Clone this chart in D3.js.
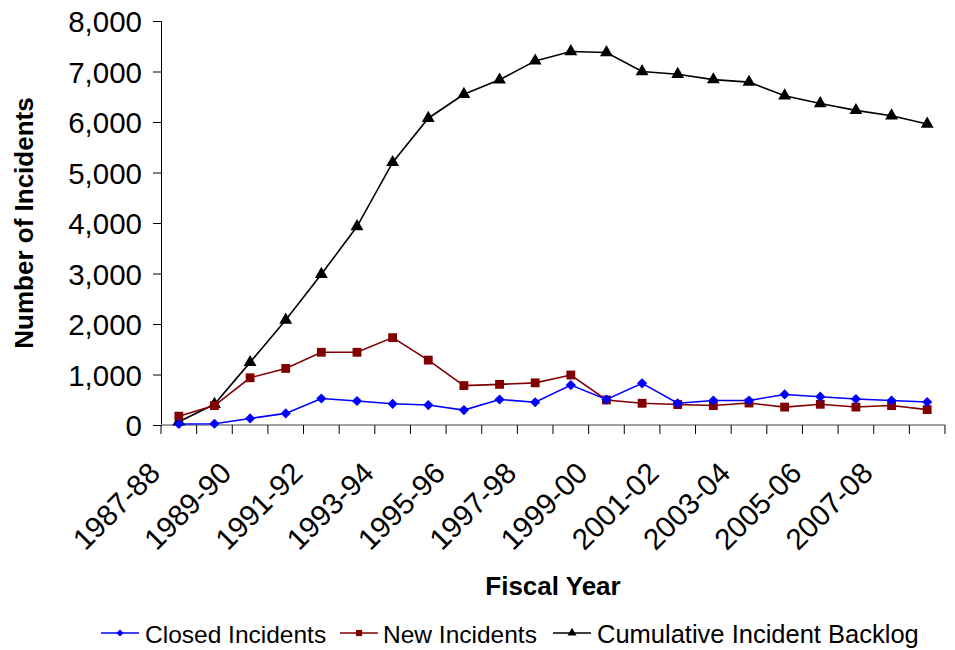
<!DOCTYPE html>
<html>
<head>
<meta charset="utf-8">
<script src="https://cdn.jsdelivr.net/npm/d3@7"></script>
<style>
  html, body { margin: 0; padding: 0; background: #fff; }
  svg { display: block; font-family: "Liberation Sans", Arial, sans-serif; }
</style>
</head>
<body>
<svg id="chart" width="955" height="650"></svg>
<script>
const categories = ["1987-88","1988-89","1989-90","1990-91","1991-92","1992-93","1993-94","1994-95","1995-96","1996-97","1997-98","1998-99","1999-00","2000-01","2001-02","2002-03","2003-04","2004-05","2005-06","2006-07","2007-08","2008-09"];
const closedIncidents = [20, 25, 130, 230, 525, 475, 420, 395, 295, 505, 450, 790, 505, 825, 430, 485, 485, 605, 560, 515, 485, 455];
const newIncidents = [175, 385, 935, 1120, 1440, 1440, 1730, 1285, 780, 805, 835, 990, 495, 430, 405, 385, 435, 355, 410, 355, 385, 305];
const backlog = [65, 410, 1240, 2080, 2985, 3930, 5200, 6075, 6550, 6835, 7210, 7395, 7375, 7000, 6945, 6840, 6790, 6520, 6365, 6230, 6125, 5960];
const yTicks = [0, 1000, 2000, 3000, 4000, 5000, 6000, 7000, 8000];
const tickLabelCats = ["1987-88","1989-90","1991-92","1993-94","1995-96","1997-98","1999-00","2001-02","2003-04","2005-06","2007-08"];
const seriesNames = ["Closed Incidents", "New Incidents", "Cumulative Incident Backlog"];
const seriesColors = ["#0000FF", "#800000", "#000000"];

const svg = d3.select("#chart");
const plot = { left: 161, right: 945, top: 21, bottom: 425 };

const x = d3.scaleBand().domain(categories).range([plot.left, plot.right]).padding(0);
const y = d3.scaleLinear().domain([0, 8000]).range([plot.bottom, plot.top]);
const cx = d => x(d) + x.bandwidth() / 2;

// marker shapes: diamond = rotated square
function marker(sel, k, scale) {
  const s = scale || 1;
  if (k === 0) {
    sel.attr("d", d3.symbol().type(d3.symbolSquare).size(52 * s * s));
  } else if (k === 1) {
    sel.attr("d", d3.symbol().type(d3.symbolSquare).size(78 * s * s));
  } else {
    sel.attr("d", d3.symbol().type(d3.symbolTriangle).size(72 * s * s));
  }
  return sel;
}

// Y axis
const yAxis = d3.axisLeft(y).tickValues(yTicks).tickSize(8).tickFormat(d3.format(",")).tickPadding(11);
const gy = svg.append("g").attr("transform", `translate(${plot.left},0)`).call(yAxis);
gy.select(".domain").attr("stroke", "#000").attr("stroke-width", 1);
gy.selectAll(".tick line").attr("stroke", "#000");
gy.selectAll(".tick text").attr("font-size", 29.5).attr("fill", "#000").attr("dy", "0.36em");

// X axis (ticks at category boundaries)
const boundaries = categories.map(c => x(c)).concat([plot.right]);
const gx = svg.append("g");
gx.append("line").attr("x1", plot.left).attr("x2", plot.right).attr("y1", plot.bottom).attr("y2", plot.bottom)
  .attr("stroke", "#808080").attr("stroke-width", 1.5);
gx.selectAll("line.tk").data(boundaries).enter().append("line").attr("class", "tk")
  .attr("x1", d => d).attr("x2", d => d).attr("y1", plot.bottom).attr("y2", plot.bottom + 9)
  .attr("stroke", "#000").attr("stroke-width", 1);
gx.selectAll("text").data(tickLabelCats).enter().append("text")
  .attr("transform", d => `translate(${cx(d) - 17},${plot.bottom + 50}) rotate(-45)`)
  .attr("text-anchor", "end").attr("font-size", 29.5).attr("fill", "#000")
  .text(d => d);

// Axis titles
svg.append("text").attr("x", 553).attr("y", 595).attr("text-anchor", "middle")
  .attr("font-size", 26).attr("font-weight", "bold").text("Fiscal Year");
svg.append("text").attr("transform", "translate(33,223) rotate(-90)").attr("text-anchor", "middle")
  .attr("font-size", 26).attr("font-weight", "bold").text("Number of Incidents");

// Series
const allSeries = [closedIncidents, newIncidents, backlog];
const line = d3.line().x((d, i) => cx(categories[i])).y(d => y(d));
[2, 1, 0].forEach(k => {
  const g = svg.append("g");
  g.append("path").datum(allSeries[k]).attr("d", line).attr("fill", "none")
    .attr("stroke", seriesColors[k]).attr("stroke-width", 1.6);
  g.selectAll("path.m").data(allSeries[k]).enter().append("path").attr("class", "m")
    .call(sel => marker(sel, k))
    .attr("transform", (d, i) => `translate(${cx(categories[i])},${y(d)})` + (k === 0 ? " rotate(45)" : ""))
    .attr("fill", seriesColors[k]);
});

// Legend
const legendItems = [
  { lx: 101, tx: 145, fs: 24.5 },
  { lx: 340, tx: 383, fs: 24.5 },
  { lx: 553, tx: 597, fs: 25.5 }
];
const leg = svg.append("g");
legendItems.forEach((it, k) => {
  const ly = 633;
  leg.append("line").attr("x1", it.lx).attr("x2", it.lx + 38).attr("y1", ly).attr("y2", ly)
    .attr("stroke", seriesColors[k]).attr("stroke-width", 1.6);
  leg.append("path")
    .call(sel => marker(sel, k, 0.7))
    .attr("transform", `translate(${it.lx + 19},${ly})` + (k === 0 ? " rotate(45)" : ""))
    .attr("fill", seriesColors[k]);
  leg.append("text").attr("x", it.tx).attr("y", 643).attr("font-size", it.fs).attr("fill", "#000")
    .text(seriesNames[k]);
});
</script>
</body>
</html>
